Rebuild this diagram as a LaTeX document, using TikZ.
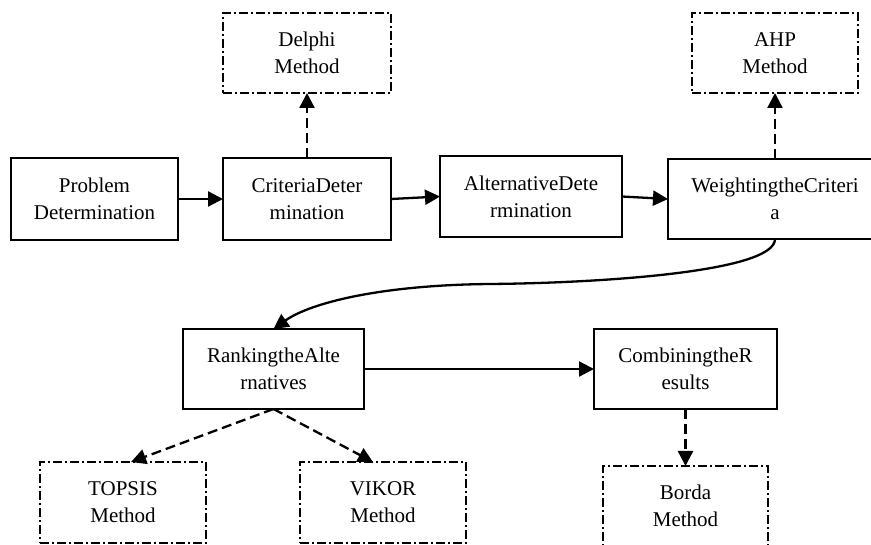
\documentclass[tikz,border=0pt]{standalone}
\usepackage{fontspec}
\setmainfont{Liberation Serif}
\usetikzlibrary{arrows.meta}
\begin{document}
\begin{tikzpicture}[x=1pt,y=-1pt,
  base/.style={rectangle,inner sep=0pt,outer sep=0pt,align=center,
    font=\fontsize{21}{27}\selectfont},
  mainbox/.style={base,draw,line width=2.3pt},
  methodbox/.style={base,draw,line width=1.8pt,dash pattern=on 9pt off 3pt on 2pt off 3pt},
  flow/.style={line width=2.3pt,-{Triangle[length=15pt,width=15pt]}},
  aux/.style={line width=2.3pt,dash pattern=on 10pt off 5pt,-{Triangle[length=15pt,width=15pt]}}]
\useasboundingbox (0,0) rectangle (871,545);

\node[mainbox,minimum width=167pt,minimum height=82pt] (prob) at (94.5,199) {Problem\\Determination};
\node[mainbox,minimum width=168pt,minimum height=82pt] (crit) at (307,199) {CriteriaDeter\\mination};
\node[mainbox,minimum width=182pt,minimum height=81pt] (alt) at (531,196.5) {AlternativeDete\\rmination};
\node[mainbox,minimum width=214pt,minimum height=80pt] (wgt) at (775,199) {WeightingtheCriteri\\a};
\node[methodbox,minimum width=168pt,minimum height=80pt] (delphi) at (307,53) {Delphi\\Method};
\node[methodbox,minimum width=166pt,minimum height=80pt] (ahp) at (775,53) {AHP\\Method};
\node[mainbox,minimum width=181pt,minimum height=80pt] (rank) at (273.5,369) {RankingtheAlte\\rnatives};
\node[mainbox,minimum width=183pt,minimum height=80pt] (comb) at (685.5,369) {CombiningtheR\\esults};
\node[methodbox,minimum width=166pt,minimum height=81pt] (topsis) at (123,502.5) {TOPSIS\\Method};
\node[methodbox,minimum width=166pt,minimum height=81pt] (vikor) at (383,502.5) {VIKOR\\Method};
\node[methodbox,minimum width=165pt,minimum height=80pt] (borda) at (685.5,506) {Borda\\Method};

\draw[flow] (prob.east) -- (crit.west);
\draw[flow] (crit.east) -- (alt.west);
\draw[flow] (alt.east) -- (wgt.west);
\draw[flow] (wgt.south) .. controls (775,272) and (600,283) .. (490,284)
  .. controls (380,285) and (310,303) .. (rank.north);
\draw[flow] (rank.east) -- (comb.west);

\draw[aux] (crit.north) -- (delphi.south);
\draw[aux] (wgt.north) -- (ahp.south);
\draw[aux] (rank.south) -- ([xshift=8pt]topsis.north);
\draw[aux] (rank.south) -- ([xshift=-10pt]vikor.north);
\draw[aux] (comb.south) -- (borda.north);
\end{tikzpicture}
\end{document}
